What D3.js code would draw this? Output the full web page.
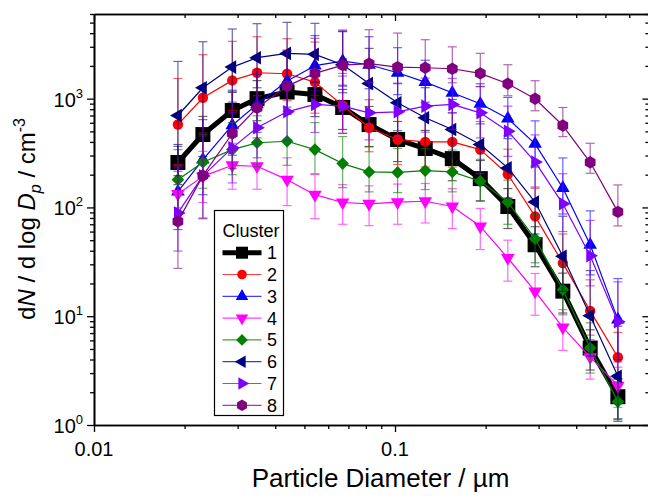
<!DOCTYPE html>
<html><head><meta charset="utf-8">
<script src="https://cdn.jsdelivr.net/npm/d3@7"></script>
<style>
body{margin:0;background:#fff;}
svg{display:block;font-family:"Liberation Sans",Arial,sans-serif;}
</style></head>
<body><svg id="chart" width="648" height="498"></svg>
<script>
// Particle diameter (µm)
const diameters = [0.019,0.023,0.0288,0.0348,0.0438,0.0542,0.067,0.082,0.102,0.126,0.155,0.192,0.237,0.292,0.361,0.445,0.55];
const clusterNames = ["1","2","3","4","5","6","7","8"];
const xTickLabels = ["0.01","0.1"];
const yTickExponents = [0,1,2,3];

// Cluster 1
const c1 = [259,468,778,1000,1150,1090,830,578,421,348,281,184,102,45.4,17,5.1,1.82];
const c1Hi = [379,686,1140,1465,1685,1597,1216,847,617,510,412,270,149,66.5,24.9,7.5,2.67];
const c1Lo = [162,294,488,627,721,684,521,363,264,218,176,115,64,28.5,10.7,3.2,1.14];
// Cluster 2
const c2 = [578,1019,1472,1730,1694,1419,866,540,421,400,400,340,202,82.8,30.8,11.2,4.2];
const c2Hi = [1533,2536,3365,3711,3559,3313,1707,978,730,694,740,616,343,150,57,21.6,7.1];
const c2Lo = [248,485,779,773,956,735,478,325,248,235,235,204,121,48.7,18.1,6.7,2.63];
// Cluster 3
const c3 = [140,275,570,885,1450,2010,2214,2050,1730,1419,1133,897,657,384,151,45.4,9.3];
const c3Hi = [364,641,1197,1673,2740,3800,4185,3710,2941,2256,1733,1372,1026,625,285,93,22.2];
const c3Lo = [62.6,131,302,489,836,1182,1302,1233,1088,927,740,586,429,241,87,24,4.0];
// Cluster 4
const c4 = [133,193,244,239,180,131,111,108,112,114,102,67,34.3,16.9,7.9,4.2,2.3];
const c4Hi = [241,328,388,380,286,200,162,158,164,166,149,98,50,24.7,11.5,6.1,3.4];
const c4Lo = [70,111,147,147,104,79,70,68,70,72,64,41,21,10.2,4.85,2.64,1.45];
// Cluster 5
const c5 = [180,260,340,393,406,340,253,212,210,218,212,174,112,51.6,17.5,5.1,1.64];
const c5Hi = [340,471,602,696,719,602,448,360,349,347,337,277,178,86,29.7,8.7,2.5];
const c5Lo = [99,150,200,236,244,204,152,139,137,146,139,114,70,31,10.3,3.0,1.12];
// Cluster 6
const c6 = [700,1259,1950,2379,2607,2553,2050,1380,917,667,520,379,231,112,35.5,10.1,2.8];
const c6Hi = [2198,3336,4368,4889,5029,4925,4127,2898,1846,1261,983,716,455,235,83,26.3,8.1];
const c6Lo = [196,484,929,1259,1440,1410,1133,762,507,368,287,209,122,57,16.9,4.3,1.08];
// Cluster 7
const c7 = [89,195,353,540,757,885,853,741,757,853,885,741,502,262,108,36,8.9];
const c7Hi = [231,454,741,1064,1431,1673,1612,1400,1370,1544,1535,1286,853,464,204,76,20.7];
const c7Lo = [39.7,80,168,286,418,489,481,418,436,492,521,436,295,154,60,19,3.8];
// Cluster 8
const c8 = [74.5,196,478,824,1303,1706,2036,2095,1950,1923,1883,1706,1371,998,566,260,91];
const c8Hi = [215,543,1166,1846,2795,3583,4276,4305,4007,3481,2994,2610,2051,1462,829,389,161];
const c8Lo = [27.5,78.7,228,436,766,1073,1331,1430,1389,1399,1399,1295,1063,774,448,206,67.6];

const colors = ["#000000","#ff0000","#0000ff","#ff00ff","#008000","#000080","#8000ff","#800080"];
const shapes = ["square","circle","triUp","triDown","diamond","triLeft","triRight","hexagon"];
const means = [c1,c2,c3,c4,c5,c6,c7,c8];
const his = [c1Hi,c2Hi,c3Hi,c4Hi,c5Hi,c6Hi,c7Hi,c8Hi];
const los = [c1Lo,c2Lo,c3Lo,c4Lo,c5Lo,c6Lo,c7Lo,c8Lo];

const svg = d3.select("#chart");
const L = 94, R = 649.4, T = 14, B = 425;
const x = d3.scaleLog().domain([0.01, 0.7]).range([L, R]);
const y = d3.scaleLog().domain([1, 6000]).range([B, T]);

function symbolPath(shape, big) {
  const s = big ? 1 : 0.85;
  switch (shape) {
    case "square": { const h = big ? 7.5 : 6; return `M${-h},${-h}H${h}V${h}H${-h}Z`; }
    case "circle": return d3.symbol(d3.symbolCircle, 85*s)();
    case "diamond": { const h = 6.3*Math.sqrt(s); return `M0,${-h}L${h},0L0,${h}L${-h},0Z`; }
    case "hexagon": {
      const r = 6.2*Math.sqrt(s); const pts = [];
      for (let k = 0; k < 6; k++) { const a = (-90 + 60*k) * Math.PI/180; pts.push([r*Math.cos(a), r*Math.sin(a)]); }
      return "M" + pts.map(p => p.join(",")).join("L") + "Z";
    }
    default: return d3.symbol(d3.symbolTriangle, 80*s)();
  }
}
function symbolRot(shape) {
  return {triDown:180, triLeft:-90, triRight:90}[shape] || 0;
}

// clip
svg.append("clipPath").attr("id","clip").append("rect").attr("x",L).attr("y",T).attr("width",R-L).attr("height",B-T);
const plot = svg.append("g").attr("clip-path","url(#clip)");

means.forEach((vals, si) => {
  const g = plot.append("g");
  const col = colors[si];
  const data = diameters.map((d, i) => ({d, v: vals[i], hi: his[si][i], lo: los[si][i]}));
  // error bars
  const eb = g.append("g").attr("stroke", col).attr("stroke-width", 1.2).attr("opacity", 0.6).attr("fill","none");
  data.forEach(p => {
    const px = x(p.d);
    eb.append("line").attr("x1",px).attr("x2",px).attr("y1",y(p.lo)).attr("y2",y(p.hi));
    eb.append("line").attr("x1",px-4.5).attr("x2",px+4.5).attr("y1",y(p.lo)).attr("y2",y(p.lo));
    eb.append("line").attr("x1",px-4.5).attr("x2",px+4.5).attr("y1",y(p.hi)).attr("y2",y(p.hi));
  });
  // line
  g.append("path").datum(data)
    .attr("fill","none").attr("stroke",col)
    .attr("stroke-width", si === 0 ? 5 : 1.2)
    .attr("stroke-linejoin","round")
    .attr("d", d3.line().x(p => x(p.d)).y(p => y(p.v)));
  // markers
  g.selectAll("path.m").data(data).join("path").attr("class","m")
    .attr("d", symbolPath(shapes[si], true))
    .attr("fill", col)
    .attr("transform", p => `translate(${x(p.d)},${y(p.v)}) rotate(${symbolRot(shapes[si])})`);
});

// axes
const xMajor = [0.01, 0.1];
const xMinor = [0.02,0.03,0.04,0.05,0.06,0.07,0.08,0.09,0.2,0.3,0.4,0.5,0.6,0.7];
const yMajor = yTickExponents.map(e => Math.pow(10, e));
const yMinor = [];
[1,10,100,1000].forEach(b => { for (let k = 2; k <= 9; k++) if (b*k <= 6000) yMinor.push(b*k); });

const axisStyle = sel => { sel.select(".domain").attr("stroke","#000").attr("stroke-width",1.6); sel.selectAll(".tick line").attr("stroke","#000").attr("stroke-width",1.3); sel.selectAll("text").remove(); };

function drawAxis(axisGen, vals, size, transform) {
  svg.append("g").attr("transform", transform)
    .call(axisGen.tickValues(vals).tickSize(size).tickSizeOuter(0).tickFormat(""))
    .call(axisStyle);
}
// bottom: outward
drawAxis(d3.axisBottom(x), xMinor, 4, `translate(0,${B})`);
drawAxis(d3.axisBottom(x), xMajor, 7, `translate(0,${B})`);
// top: inward
drawAxis(d3.axisTop(x), xMinor, -4, `translate(0,${T})`);
drawAxis(d3.axisTop(x), xMajor, -7, `translate(0,${T})`);
// left: outward
drawAxis(d3.axisLeft(y), yMinor, 4, `translate(${L},0)`);
drawAxis(d3.axisLeft(y), yMajor, 7, `translate(${L},0)`);
// right: inward
drawAxis(d3.axisRight(y), yMinor, -4, `translate(${R},0)`);
drawAxis(d3.axisRight(y), yMajor, -7, `translate(${R},0)`);

// tick labels
svg.append("g").selectAll("text").data(xMajor).join("text")
  .attr("x", d => x(d)).attr("y", 456).attr("text-anchor","middle")
  .attr("font-size", 20).text((d,i) => xTickLabels[i]);

const yl = svg.append("g");
yMajor.forEach((v, i) => {
  const t = yl.append("text").attr("x", 83).attr("y", y(v) + 8).attr("text-anchor","end").attr("font-size", 20);
  t.append("tspan").text("10");
  t.append("tspan").attr("font-size", 13).attr("dy", -9).text(String(yTickExponents[i]));
});

// axis titles
svg.append("text").attr("x", 380.5).attr("y", 487).attr("text-anchor","middle").attr("font-size", 26)
  .text("Particle Diameter / µm");

const yt = svg.append("text").attr("transform","translate(35,219) rotate(-90)").attr("text-anchor","middle").attr("font-size", 24);
yt.append("tspan").text("d");
yt.append("tspan").attr("font-style","italic").text("N");
yt.append("tspan").text(" / d log ");
yt.append("tspan").attr("font-style","italic").text("D");
yt.append("tspan").attr("font-style","italic").attr("font-size",16).attr("dy",6).text("p");
yt.append("tspan").attr("dy",-6).text(" / cm");
yt.append("tspan").attr("font-size",16).attr("dy",-10).text("-3");

// legend
const lg = svg.append("g");
lg.append("rect").attr("x",214.5).attr("y",210.5).attr("width",69).attr("height",205)
  .attr("fill","#fff").attr("stroke","#000").attr("stroke-width",1.2);
lg.append("text").attr("x",251).attr("y",237).attr("text-anchor","middle").attr("font-size",18).text("Cluster");
clusterNames.forEach((name, i) => {
  const cy = 252.7 + i*21.8;
  const col = colors[i];
  lg.append("line").attr("x1",222.5).attr("x2",261.5).attr("y1",cy).attr("y2",cy)
    .attr("stroke",col).attr("stroke-width", i === 0 ? 5 : 1.2).attr("opacity", i === 0 ? 1 : 0.75);
  lg.append("path").attr("d", symbolPath(shapes[i], false)).attr("fill",col)
    .attr("transform",`translate(242,${cy}) rotate(${symbolRot(shapes[i])})`);
  lg.append("text").attr("x",267).attr("y",cy+6.5).attr("font-size",18).text(name);
});
</script></body></html>
